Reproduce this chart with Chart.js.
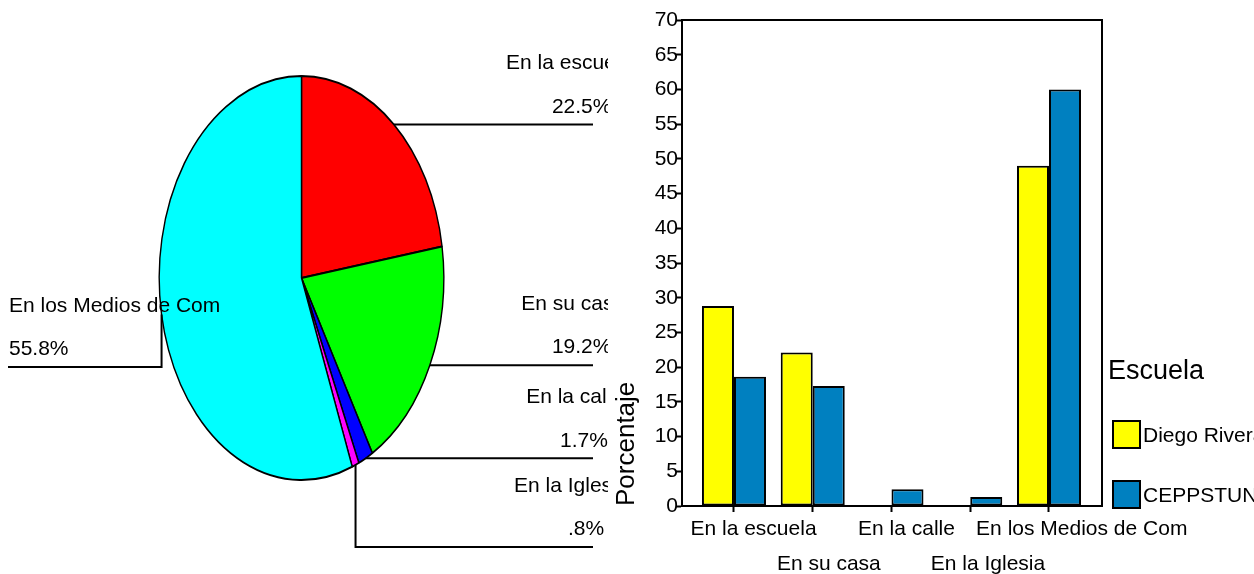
<!DOCTYPE html>
<html><head><meta charset="utf-8">
<script src="https://cdn.jsdelivr.net/npm/chart.js@4.4.1/dist/chart.umd.min.js"></script>
<style>
html,body{margin:0;padding:0;background:#fff;}
#wrap{position:relative;width:1254px;height:574px;overflow:hidden;background:#fff;}
#pie{position:absolute;left:0;top:0;}
#bar{position:absolute;left:600px;top:0;}
</style></head><body>
<div id="wrap"><canvas id="pie" width="608" height="574"></canvas><canvas id="bar" width="654" height="574"></canvas></div>
<script>
// ---- data ----
const pieLabels = ['En la escuela', 'En su casa', 'En la calle', 'En la Iglesia', 'En los Medios de Com'];
const pieValues = [22.5, 19.2, 1.7, 0.8, 55.8];
const pieColors = ['#FF0000', '#00FF00', '#0000FF', '#FF00FF', '#00FFFF'];

const categories = ['En la escuela', 'En su casa', 'En la calle', 'En la Iglesia', 'En los Medios de Com'];
const diegoRivera = [28.8, 22.1, 0, 0, 49.0];
const ceppstun = [18.6, 17.3, 2.4, 1.3, 60.0];
const seriesNames = ['Diego Rivera', 'CEPPSTUNAM'];
const seriesColors = ['#FFFF00', '#0080C0'];
const legendTitle = 'Escuela';
const yAxisTitle = 'Porcentaje';
const yMin = 0, yMax = 70, yStep = 5;

const FONT = '"Liberation Sans", Arial, Helvetica, sans-serif';

// ---- pie (drawn as ellipse) ----
const SX = 143 / 203;
const lineLevels = [null, null, null, 547, 367];
function fmtPct(v) { let s = v.toFixed(1); if (s.startsWith('0')) s = s.slice(1); return s + '%'; }

const pieDecor = {
  id: 'pieDecor',
  beforeDatasetsDraw(chart) {
    const a = chart.getDatasetMeta(0).data[0];
    const c = chart.ctx;
    c.save(); c.translate(a.x, 0); c.scale(SX, 1); c.translate(-a.x, 0);
  },
  afterDatasetsDraw(chart) { chart.ctx.restore(); },
  afterDraw(chart) {
    const c = chart.ctx;
    const arcs = chart.getDatasetMeta(0).data;
    c.save();
    c.strokeStyle = '#000'; c.lineWidth = 2; c.fillStyle = '#000';
    c.font = '21px ' + FONT; c.textBaseline = 'middle'; c.textAlign = 'left';
    arcs.forEach((a, i) => {
      const mid = (a.startAngle + a.endAngle) / 2;
      const px = a.x + SX * a.outerRadius * Math.cos(mid);
      const py = a.y + a.outerRadius * Math.sin(mid);
      const right = px >= a.x;
      const ly = lineLevels[i] == null ? py : lineLevels[i];
      const endX = right ? 593 : 8;
      c.beginPath(); c.moveTo(px, py);
      if (Math.abs(ly - py) > 0.5) c.lineTo(px, ly);
      c.lineTo(endX, ly); c.stroke();
      const texts = [[pieLabels[i], ly - 61], [fmtPct(pieValues[i]), ly - 17.5]];
      texts.forEach(([t, y]) => {
        const w = c.measureText(t).width;
        const x = right ? endX - 0.69 * w : endX + 1;
        c.fillText(t, x, y);
      });
    });
    c.restore();
  }
};

new Chart(document.getElementById('pie'), {
  type: 'pie',
  data: { labels: pieLabels, datasets: [{ data: pieValues, backgroundColor: pieColors, borderColor: '#000', borderWidth: 2 }] },
  options: {
    responsive: false, animation: false, events: [],
    layout: { padding: { left: 98.5, top: 75, right: 103.5, bottom: 93 } },
    plugins: { legend: { display: false }, tooltip: { enabled: false } }
  },
  plugins: [pieDecor]
});

// ---- bar chart ----
const frame = {
  id: 'frame',
  afterDraw(chart) {
    const { left, top, right, bottom } = chart.chartArea;
    const c = chart.ctx;
    c.save(); c.strokeStyle = '#000'; c.lineWidth = 2;
    c.beginPath(); c.moveTo(left, top); c.lineTo(right, top); c.lineTo(right, bottom); c.stroke();
    c.restore();
  }
};
const shiftLabels = {
  id: 'shiftLabels',
  beforeDraw(chart) {
    try {
      const s = chart.scales.x;
      const items = s.getLabelItems();
      const c = chart.ctx;
      c.save(); c.font = '21px ' + FONT;
      items.forEach(it => {
        if (it._sh) return;
        const t = [].concat(it.label).filter(Boolean).join('');
        it.options.translation[0] += 0.155 * c.measureText(t).width;
        it._sh = true;
      });
      c.restore();
    } catch (e) {}
  }
};
const legendPlugin = {
  id: 'customLegend',
  afterDraw(chart) {
    const c = chart.ctx;
    c.save();
    c.fillStyle = '#000'; c.textBaseline = 'middle'; c.textAlign = 'left';
    c.font = '27px ' + FONT;
    c.fillText(legendTitle, 508, 372);
    chart.data.datasets.forEach((d, i) => {
      const y = 421 + i * 60;
      c.fillStyle = d.backgroundColor; c.fillRect(513, y, 27, 27);
      c.strokeStyle = '#000'; c.lineWidth = 2; c.strokeRect(513, y, 27, 27);
      c.fillStyle = '#000'; c.font = '21px ' + FONT;
      c.fillText(d.label, 543, y + 15);
    });
    c.restore();
  }
};

new Chart(document.getElementById('bar'), {
  type: 'bar',
  data: {
    labels: categories,
    datasets: [
      { label: seriesNames[0], data: diegoRivera, backgroundColor: seriesColors[0], borderColor: '#000', borderWidth: 2, borderSkipped: false },
      { label: seriesNames[1], data: ceppstun, backgroundColor: seriesColors[1], borderColor: '#000', borderWidth: 2, borderSkipped: false }
    ]
  },
  options: {
    responsive: false, animation: false, events: [],
    layout: { padding: { left: 11.4, top: 20, right: 152, bottom: 0 } },
    plugins: { legend: { display: false }, tooltip: { enabled: false } },
    datasets: { bar: { categoryPercentage: 0.813, barPercentage: 1 } },
    scales: {
      x: {
        type: 'category', offset: true,
        afterBuildTicks(s) { s._startValue = -0.66; s._valueRange = 5.333; },
        afterFit(s) { s.height = 68; },
        grid: { display: true, drawOnChartArea: false, drawTicks: true, tickLength: 6, tickColor: '#000', tickWidth: 2, offset: false },
        border: { display: true, color: '#000', width: 2 },
        ticks: {
          autoSkip: false, maxRotation: 0, minRotation: 0, padding: 0, color: '#000',
          font: { family: FONT, size: 21, lineHeight: 35 / 21 },
          callback(v, i) { const l = this.getLabelForValue(v); return i % 2 ? ['', l] : l; }
        }
      },
      y: {
        min: yMin, max: yMax,
        afterFit(s) { s.width = 70.6; },
        ticks: { stepSize: yStep, padding: -2, color: '#000', font: { family: FONT, size: 21 } },
        grid: { drawOnChartArea: false, tickLength: 6, tickColor: '#000', tickWidth: 2 },
        border: { display: true, color: '#000', width: 2 },
        title: { display: true, text: yAxisTitle, align: 'start', color: '#000', font: { family: FONT, size: 26, lineHeight: 1.2 }, padding: 0 }
      }
    }
  },
  plugins: [frame, shiftLabels, legendPlugin]
});
</script>
</body></html>
